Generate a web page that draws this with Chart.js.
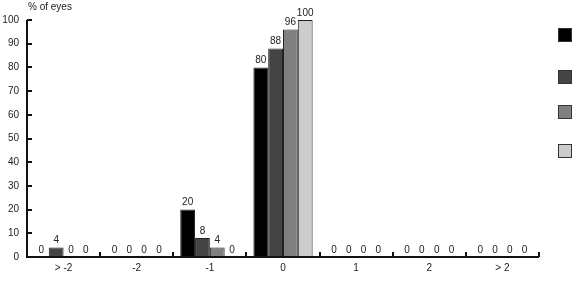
<!DOCTYPE html>
<html>
<head>
<meta charset="utf-8">
<script src="https://cdn.jsdelivr.net/npm/chart.js@4"></script>
<style>
  html, body { margin: 0; padding: 0; background: #fff; }
  #wrap { width: 585px; height: 284px; }
</style>
</head>
<body>
<div id="wrap"><canvas id="chart" width="585" height="284"></canvas></div>
<script>
const categories = ["> -2", "-2", "-1", "0", "1", "2", "> 2"];
const seriesA = [0, 0, 20, 80, 0, 0, 0];
const seriesB = [4, 0, 8, 88, 0, 0, 0];
const seriesC = [0, 0, 4, 96, 0, 0, 0];
const seriesD = [0, 0, 0, 100, 0, 0, 0];
const yTicks = [0, 10, 20, 30, 40, 50, 60, 70, 80, 90, 100];

const colors = ["#000000", "#444444", "#808080", "#cccccc"];
const FONT = "'Liberation Sans', Arial, sans-serif";

// value labels, inner tick marks, y title and the unlabeled legend squares
const decor = {
  id: "decor",
  afterDatasetsDraw(chart) {
    const ctx = chart.ctx;
    const x = chart.scales.x;
    const y = chart.scales.y;
    const area = chart.chartArea;
    ctx.save();
    ctx.font = "10px " + FONT;
    ctx.fillStyle = "#222";
    ctx.textAlign = "center";
    ctx.textBaseline = "bottom";
    chart.data.datasets.forEach((ds, i) => {
      chart.getDatasetMeta(i).data.forEach((bar, j) => {
        ctx.fillText(String(ds.data[j]), bar.x, bar.y - 2);
      });
    });

    // axes
    ctx.strokeStyle = "#111";
    ctx.lineWidth = 2;
    ctx.beginPath();
    ctx.moveTo(area.left, area.top);
    ctx.lineTo(area.left, area.bottom);
    ctx.lineTo(area.right, area.bottom);
    ctx.stroke();

    yTicks.forEach(v => {
      const py = Math.round(y.getPixelForValue(v));
      ctx.beginPath();
      ctx.moveTo(area.left, py);
      ctx.lineTo(area.left + 5, py);
      ctx.stroke();
    });
    const step = x.getPixelForValue(1) - x.getPixelForValue(0);
    for (let k = 0; k < categories.length; k++) {
      const px = Math.round(x.getPixelForValue(k) + step / 2);
      ctx.beginPath();
      ctx.moveTo(px, area.bottom);
      ctx.lineTo(px, area.bottom - 5);
      ctx.stroke();
    }

    ctx.textAlign = "left";
    ctx.textBaseline = "middle";
    ctx.fillStyle = "#222";
    ctx.fillText("% of eyes", 28, 7);

    ctx.lineWidth = 1;
    ctx.strokeStyle = "#333";
    const legendY = [28, 70, 105, 144];
    colors.forEach((c, i) => {
      ctx.fillStyle = c;
      ctx.fillRect(558, legendY[i], 14, 14);
      ctx.strokeRect(558.5, legendY[i] + 0.5, 13, 13);
    });
    ctx.restore();
  }
};

const mkSet = (label, data, i) => ({
  label: label,
  data: data,
  backgroundColor: colors[i],
  borderColor: "#222",
  borderWidth: 1,
  barPercentage: 1.0,
  categoryPercentage: 0.81
});

new Chart(document.getElementById("chart"), {
  type: "bar",
  data: {
    labels: categories,
    datasets: [
      mkSet("A", seriesA, 0),
      mkSet("B", seriesB, 1),
      mkSet("C", seriesC, 2),
      mkSet("D", seriesD, 3)
    ]
  },
  options: {
    responsive: false,
    animation: false,
    layout: { padding: { top: 20, right: 46, left: 0, bottom: 0 } },
    plugins: { legend: { display: false }, tooltip: { enabled: false } },
    scales: {
      x: {
        grid: { display: false, drawTicks: false },
        border: { display: false },
        ticks: { color: "#222", font: { family: FONT, size: 10 }, padding: 5 },
        afterFit(s) { s.height = 27; }
      },
      y: {
        min: 0,
        max: 100,
        grid: { display: false, drawTicks: false },
        border: { display: false },
        ticks: { stepSize: 10, color: "#222", font: { family: FONT, size: 10 }, padding: 8 },
        afterFit(s) { s.width = 27; }
      }
    }
  },
  plugins: [decor]
});
</script>
</body>
</html>
